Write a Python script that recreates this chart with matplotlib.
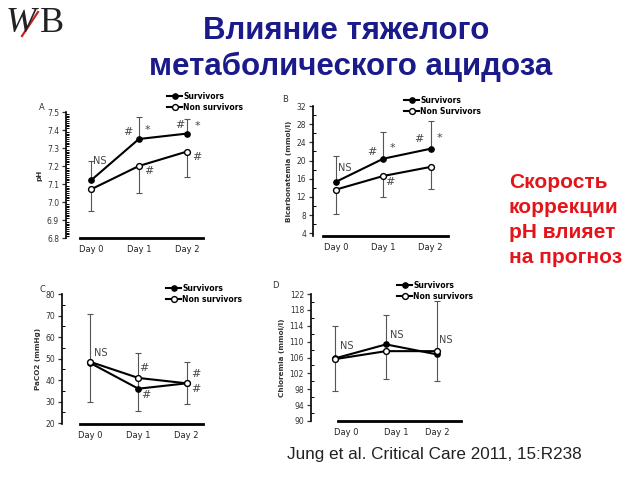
import numpy as np
import matplotlib
matplotlib.use('Agg')
import matplotlib.pyplot as plt
from matplotlib.ticker import MultipleLocator

# ---------------- data ----------------
days = ['Day 0', 'Day 1', 'Day 2']

# A: pH
ph_surv = [7.12, 7.35, 7.38]
ph_surv_sd = [0.11, 0.12, 0.08]
ph_non = [7.07, 7.20, 7.28]
ph_non_sd = [0.12, 0.15, 0.14]

# B: bicarbonatemia (mmol/l)
bic_surv = [15.3, 20.4, 22.6]
bic_surv_sd = [5.7, 5.9, 6.2]
bic_non = [13.6, 16.6, 18.6]
bic_non_sd = [5.3, 4.6, 4.9]

# C: PaCO2 (mmHg)
pco2_surv = [48.0, 36.0, 38.5]
pco2_surv_sd = [22.5, 16.5, 10.0]
pco2_non = [48.5, 41.0, 38.5]
pco2_non_sd = [18.5, 15.5, 9.5]

# D: chloremia (mmol/l)
cl_surv = [105.8, 109.3, 106.8]
cl_surv_sd = [8.2, 7.4, 13.5]
cl_non = [105.6, 107.6, 107.6]
cl_non_sd = [8.0, 7.0, 7.6]

# significance marks: (text, x, y)
marks_a = [('NS', 0.19, 7.23), ('#', 0.77, 7.39), ('*', 1.17, 7.40), ('#', 1.85, 7.43),
           ('*', 2.23, 7.42), ('#', 1.21, 7.17), ('#', 2.21, 7.25)]
marks_b = [('NS', 0.19, 18.3), ('#', 0.76, 21.9), ('*', 1.2, 22.7), ('#', 1.75, 24.7),
           ('*', 2.19, 24.9), ('#', 1.14, 15.2)]
marks_c = [('NS', 0.23, 52.6), ('#', 1.11, 45.6), ('#', 1.15, 33.0), ('#', 2.19, 42.8),
           ('#', 2.19, 35.8)]
marks_d = [('NS', 0.22, 108.9), ('NS', 1.21, 111.7), ('NS', 2.18, 110.4)]

W, H = 640, 480
fig = plt.figure(figsize=(6.4, 4.8), dpi=100)
fig.patch.set_facecolor('white')


def px_axes(left, top, right, bottom):
    return fig.add_axes([left / W, (H - bottom) / H, (right - left) / W, (bottom - top) / H])


def panel(rect, xlim, ylim, major, minor, line_bounds, surv, surv_sd, non, non_sd,
          ylabel, letter, letter_xy, marks, leg_xy, non_label, tick_pos, yfmt, yoff=0):
    ax = px_axes(*rect)
    ax.set_xlim(*xlim)
    ax.set_ylim(*ylim)
    x = np.arange(len(days))
    gray = '#555555'
    # survivors error bars upward, non survivors downward
    ax.errorbar(x, surv, yerr=[np.zeros(3), surv_sd], fmt='none', ecolor=gray,
                elinewidth=0.8, capsize=2.5, capthick=0.8, zorder=1)
    ax.errorbar(x, non, yerr=[non_sd, np.zeros(3)], fmt='none', ecolor=gray,
                elinewidth=0.8, capsize=2.5, capthick=0.8, zorder=1)
    ax.plot(x, surv, '-o', color='black', lw=1.5, ms=3.8, mfc='black', mec='black',
            label='Survivors', zorder=3)
    ax.plot(x, non, '-o', color='black', lw=1.5, ms=4.2, mfc='white', mec='black',
            mew=1.0, label=non_label, zorder=3)

    for s in ['top', 'right']:
        ax.spines[s].set_visible(False)
    ax.spines['left'].set_linewidth(1.2)
    ax.spines['bottom'].set_linewidth(2.0)
    ax.spines['bottom'].set_bounds(*line_bounds)

    ax.yaxis.set_major_locator(MultipleLocator(major, offset=yoff))
    ax.yaxis.set_minor_locator(MultipleLocator(minor))
    ax.yaxis.set_major_formatter(plt.FormatStrFormatter(yfmt))
    ax.tick_params(axis='y', which='major', direction='out', length=3, width=0.9,
                   labelsize=5.5, pad=2, colors='#333333')
    ax.tick_params(axis='y', which='minor', direction='in', length=2, width=0.7)
    ax.set_xticks(tick_pos)
    ax.set_xticklabels(days)
    ax.tick_params(axis='x', length=0, labelsize=6, pad=5, colors='#222222')

    ax.set_ylabel(ylabel, fontsize=5.2, fontweight='bold', color='#333333', labelpad=3)

    for txt, mx, my in marks:
        size = 7 if txt == 'NS' else 8
        ax.text(mx, my, txt, fontsize=size, color='#444444', ha='center', va='center')

    fig.text(letter_xy[0] / W, 1 - letter_xy[1] / H, letter, fontsize=6, color='#333333',
             ha='center', va='center')
    ax.legend(loc='upper left', bbox_to_anchor=(leg_xy[0] / W, 1 - leg_xy[1] / H),
              bbox_transform=fig.transFigure, frameon=False, handlelength=2.0,
              handletextpad=0.1, labelspacing=0.25, borderpad=0, borderaxespad=0,
              prop={'size': 5.5, 'weight': 'bold'})
    return ax


panel((66, 112, 206, 238), (-0.52, 2.4), (6.8, 7.5), 0.1, 0.01, (-0.23, 2.33),
      ph_surv, ph_surv_sd, ph_non, ph_non_sd, 'pH', 'A', (42, 108), marks_a,
      (167, 92), 'Non survivors', [0, 1, 2], '%.1f')
panel((313, 106, 452, 236), (-0.48, 2.45), (3.4, 32), 4, 2, (-0.27, 2.36),
      bic_surv, bic_surv_sd, bic_non, bic_non_sd, 'Bicarbonatemia (mmol/l)', 'B', (285, 100),
      marks_b, (404, 96), 'Non Survivors', [0, 1, 2], '%d')
panel((62, 294, 206, 424), (-0.58, 2.4), (19.6, 80), 10, 5, (-0.21, 2.33),
      pco2_surv, pco2_surv_sd, pco2_non, pco2_non_sd, 'PaCO2 (mmHg)', 'C', (42, 290),
      marks_c, (166, 284), 'Non survivors', [0, 1, 2], '%d')
panel((311, 294, 462, 421), (-0.48, 2.5), (90, 122), 4, 2, (0.06, 2.48),
      cl_surv, cl_surv_sd, cl_non, cl_non_sd, 'Chloremia (mmol/l)', 'D', (275, 285),
      marks_d, (397, 281), 'Non survivors', [0.22, 1.2, 2.02], '%d', yoff=2)

# ---------------- slide texts ----------------
navy = '#1a1a8a'
fig.text(346 / W, 1 - 31 / H, 'Влияние тяжелого', fontsize=22.5, fontweight='bold',
         color=navy, ha='center', va='center', family='Liberation Sans')
fig.text(351 / W, 1 - 67 / H, 'метаболического ацидоза', fontsize=22.5, fontweight='bold',
         color=navy, ha='center', va='center', family='Liberation Sans')

red_lines = ['Скорость', 'коррекции', 'pH влияет', 'на прогноз']
for i, line in enumerate(red_lines):
    fig.text(509 / W, 1 - (182 + 25.3 * i) / H, line, fontsize=15, fontweight='bold',
             color='#e5141b', ha='left', va='center', family='Liberation Sans')

fig.text(287 / W, 1 - 454 / H, 'Jung et al. Critical Care 2011, 15:R238', fontsize=12.3,
         color='#222222', ha='left', va='center', family='Liberation Sans')

# logo
fig.text(6 / W, 1 - 24 / H, 'W', fontsize=26, style='italic', color='#222222',
         family='Liberation Serif', ha='left', va='center')
fig.text(40 / W, 1 - 24 / H, 'B', fontsize=26, color='#222222',
         family='Liberation Serif', ha='left', va='center')
fig.add_artist(plt.Line2D([22 / W, 38 / W], [1 - 36 / H, 1 - 12 / H], color='#cc1f1f', lw=1.6))

fig.savefig('out.png', dpi=100, facecolor='white')
